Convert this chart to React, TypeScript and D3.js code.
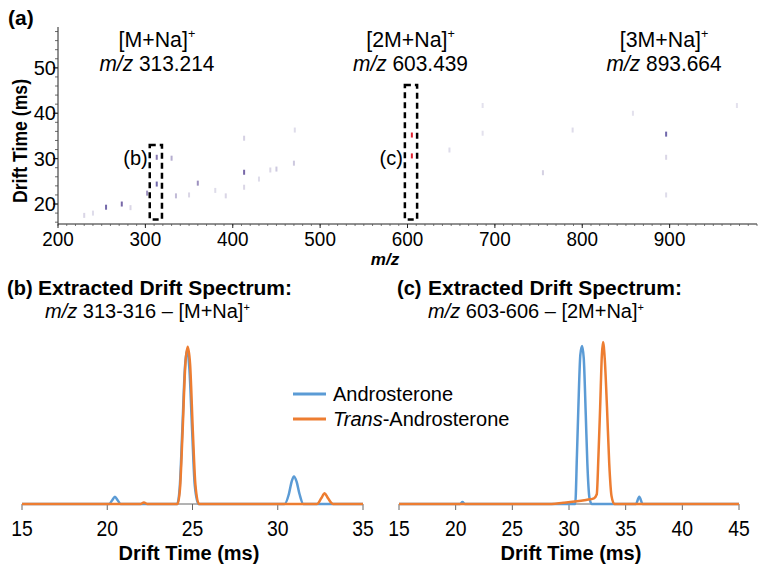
import React from 'react';
import * as d3 from 'd3';

// ---------- data: panel (a) drift-time vs m/z map ----------
const mzTicks = [200, 300, 400, 500, 600, 700, 800, 900];
const dtTicks = [20, 30, 40, 50];
const spotMz = [255, 273, 302, 313, 313, 330, 335, 360, 413, 413, 413, 450, 443, 470, 471, 392, 605, 605, 896, 896, 896, 755, 686, 858, 977, 648, 789, 686, 230, 240, 283, 350, 380, 430];
const spotDt = [19.3, 20.0, 22.4, 24.4, 30.3, 30.1, 21.8, 24.6, 27.0, 34.5, 23.7, 27.7, 27.5, 29.0, 36.3, 21.8, 35.2, 30.6, 35.4, 30.3, 22.0, 26.9, 41.7, 40.0, 41.7, 31.9, 36.3, 35.6, 17.5, 18.0, 19.2, 22.0, 23.0, 25.5];
const spotInt = [0.55, 0.5, 0.35, 0.6, 0.45, 0.25, 0.2, 0.35, 0.5, 0.12, 0.1, 0.15, 0.1, 0.15, 0.08, 0.1, 1.0, 1.0, 0.6, 0.1, 0.08, 0.12, 0.06, 0.06, 0.06, 0.08, 0.08, 0.06, 0.1, 0.08, 0.1, 0.1, 0.08, 0.08];

const boxLabels = ['(b)', '(c)'];
const boxMzLo = [305, 597];
const boxMzHi = [319, 611];
const boxDtLo = [16.6, 16.6];
const boxDtHi = [33.0, 46.2];

const ionNames = ['[M+Na]', '[2M+Na]', '[3M+Na]'];
const ionMz = [313.214, 603.439, 893.664];

// ---------- data: extracted drift spectra ----------
const seriesNames = ['Androsterone', 'Trans-Androsterone'];
const driftTicksB = [15, 20, 25, 30, 35];
const driftTicksC = [15, 20, 25, 30, 35, 40, 45];

const andB: [number, number][] = [
  [15, 0], [20.1, 0], [20.3, 0.025], [20.45, 0.045], [20.6, 0.025], [20.8, 0],
  [24.1, 0], [24.25, 0.1], [24.4, 0.45], [24.55, 0.83], [24.68, 0.95], [24.82, 0.83], [24.98, 0.45], [25.13, 0.12], [25.35, 0],
  [30.4, 0], [30.65, 0.06], [30.82, 0.14], [30.95, 0.17], [31.1, 0.14], [31.28, 0.06], [31.5, 0], [35, 0]
];
const transB: [number, number][] = [
  [15, 0], [21.95, 0], [22.15, 0.01], [22.35, 0],
  [24.12, 0], [24.27, 0.1], [24.42, 0.45], [24.58, 0.86], [24.72, 0.97], [24.86, 0.86], [25.02, 0.45], [25.17, 0.12], [25.38, 0],
  [32.3, 0], [32.55, 0.035], [32.75, 0.066], [32.95, 0.035], [33.25, 0], [35, 0]
];
const andC: [number, number][] = [
  [15, 0], [20.4, 0], [20.6, 0.012], [20.8, 0],
  [30.55, 0], [30.7, 0.3], [30.82, 0.58], [31.0, 0.92], [31.15, 0.975], [31.3, 0.9], [31.48, 0.55], [31.62, 0.25], [31.8, 0.04], [32.0, 0],
  [35.9, 0], [36.2, 0.045], [36.5, 0], [45, 0]
];
const transC: [number, number][] = [
  [15, 0], [28.0, 0], [29.5, 0.008], [30.5, 0.015], [31.5, 0.025], [32.2, 0.035], [32.45, 0.06],
  [32.6, 0.3], [32.75, 0.6], [32.9, 0.92], [33.0, 1.0], [33.15, 0.9], [33.35, 0.6], [33.55, 0.25], [33.75, 0.05], [34.0, 0], [45, 0]
];

const FONT = 'Liberation Sans, Arial, Helvetica, sans-serif';
const BLUE = '#5b9bd5';
const ORANGE = '#ed7d31';

// text drawn with a horizontal scale factor (reference glyphs are slightly condensed/expanded)
function ST(props: any) {
  const { x, y, sx = 1, rot = 0, children, ...rest } = props;
  return (
    <text transform={`translate(${x},${y}) rotate(${rot}) scale(${sx},1)`} {...rest}>{children}</text>
  );
}

export default function App() {
  // panel (a) scales
  const x = d3.scaleLinear().domain([200, 1000]).range([58, 757]);
  const y = d3.scaleLinear().domain([15.6, 59]).range([224, 27]);
  const color = d3.scaleLinear<string>().domain([0, 0.5, 0.9, 1]).range(['#f2f2f6', '#7868a8', '#5a6cb8', '#e0202e']);
  const minorMz = d3.range(200, 1001, 10);
  const minorDt = d3.range(16, 59, 2);

  // bottom panels
  const xb = d3.scaleLinear().domain([15, 35]).range([22, 363]);
  const xc = d3.scaleLinear().domain([15, 45]).range([399, 739]);
  const yi = d3.scaleLinear().domain([0, 1]).range([504, 342]);
  const lineB = d3.line<[number, number]>().x(d => xb(d[0])).y(d => yi(d[1])).curve(d3.curveMonotoneX);
  const lineC = d3.line<[number, number]>().x(d => xc(d[0])).y(d => yi(d[1])).curve(d3.curveMonotoneX);

  const axisY = 504;
  const t2 = seriesNames[1].split('-');

  return (
    <svg width={762} height={574} style={{ position: 'absolute', left: 0, top: 0, background: '#fff' }} fontFamily={FONT}>
      <rect width={762} height={574} fill="#fff" />
      {/* ---------- panel (a) ---------- */}
      <text x={8} y={25} fontSize={21} fontWeight="bold">(a)</text>
      {spotMz.map((m, i) => (
        <rect key={'s' + i} x={x(m) - 1} y={y(spotDt[i]) - 2.5} width={2} height={5} fill={color(spotInt[i])} />
      ))}
      {/* y axis */}
      <line x1={58} x2={58} y1={y(59)} y2={224} stroke="#222" strokeWidth={1} />
      {minorDt.map(v => (
        <line key={'my' + v} x1={55} x2={58} y1={y(v)} y2={y(v)} stroke="#444" strokeWidth={0.8} />
      ))}
      {dtTicks.map(v => (
        <g key={'yt' + v}>
          <line x1={53} x2={58} y1={y(v)} y2={y(v)} stroke="#222" />
          <text x={56} y={y(v) + 7} fontSize={20} textAnchor="end">{v}</text>
        </g>
      ))}
      {/* x axis */}
      <line x1={58} x2={757} y1={224} y2={224} stroke="#222" strokeWidth={1} />
      {minorMz.map(v => (
        <line key={'mx' + v} x1={x(v)} x2={x(v)} y1={224} y2={226} stroke="#555" strokeWidth={0.8} />
      ))}
      {mzTicks.map(v => (
        <g key={'xt' + v}>
          <line x1={x(v)} x2={x(v)} y1={224} y2={228} stroke="#222" />
          <ST x={x(v)} y={246} sx={0.9} fontSize={21} textAnchor="middle">{v}</ST>
        </g>
      ))}
      <text x={385} y={265} fontSize={17} fontWeight="bold" fontStyle="italic" textAnchor="middle">m/z</text>
      <ST x={27} y={141} rot={-90} sx={0.84} fontSize={21} fontWeight="bold" textAnchor="middle">Drift Time (ms)</ST>
      {/* dashed boxes */}
      {boxLabels.map((lab, i) => (
        <g key={'box' + i}>
          <rect x={x(boxMzLo[i])} y={y(boxDtHi[i])} width={x(boxMzHi[i]) - x(boxMzLo[i])} height={y(boxDtLo[i]) - y(boxDtHi[i])}
            fill="none" stroke="#000" strokeWidth={2.5} strokeDasharray="6,4" />
          <text x={x(boxMzLo[i]) - 2} y={165} fontSize={20} textAnchor="end">{lab}</text>
        </g>
      ))}
      {/* ion labels */}
      {ionNames.map((n, i) => (
        <g key={'ion' + i}>
          <ST x={x(ionMz[i])} y={47} sx={0.97} fontSize={22} textAnchor="middle">{n}<tspan fontSize={13} dy={-9}>+</tspan></ST>
          <ST x={x(ionMz[i])} y={71} sx={0.95} fontSize={22} textAnchor="middle"><tspan fontStyle="italic">m/z</tspan> {ionMz[i].toFixed(3)}</ST>
        </g>
      ))}

      {/* ---------- panel (b) ---------- */}
      <text x={7} y={295} fontSize={20} fontWeight="bold">(b)</text>
      <text x={38} y={295} fontSize={20} fontWeight="bold" textLength={254} lengthAdjust="spacingAndGlyphs">Extracted Drift Spectrum:</text>
      <text x={45} y={318} fontSize={20}><tspan fontStyle="italic">m/z</tspan> 313-316 – [M+Na]<tspan fontSize={11} dy={-7}>+</tspan></text>
      <line x1={xb(15)} x2={xb(35)} y1={axisY} y2={axisY} stroke="#666" strokeWidth={1} />
      {driftTicksB.map(v => (
        <g key={'bt' + v}>
          <line x1={xb(v)} x2={xb(v)} y1={axisY} y2={axisY + 6} stroke="#666" />
          <ST x={xb(v)} y={536} sx={0.88} fontSize={22} textAnchor="middle">{v}</ST>
        </g>
      ))}
      <text x={189} y={560} fontSize={20} fontWeight="bold" textAnchor="middle">Drift Time (ms)</text>
      <path d={lineB(andB) || ''} fill="none" stroke={BLUE} strokeWidth={2.5} strokeLinejoin="round" />
      <path d={lineB(transB) || ''} fill="none" stroke={ORANGE} strokeWidth={2.5} strokeLinejoin="round" />

      {/* ---------- panel (c) ---------- */}
      <text x={397} y={295} fontSize={20} fontWeight="bold">(c)</text>
      <text x={428} y={295} fontSize={20} fontWeight="bold" textLength={254} lengthAdjust="spacingAndGlyphs">Extracted Drift Spectrum:</text>
      <text x={428} y={318} fontSize={20}><tspan fontStyle="italic">m/z</tspan> 603-606 – [2M+Na]<tspan fontSize={11} dy={-7}>+</tspan></text>
      <line x1={xc(15)} x2={xc(45)} y1={axisY} y2={axisY} stroke="#666" strokeWidth={1} />
      {driftTicksC.map(v => (
        <g key={'ct' + v}>
          <line x1={xc(v)} x2={xc(v)} y1={axisY} y2={axisY + 6} stroke="#666" />
          <ST x={xc(v)} y={536} sx={0.88} fontSize={22} textAnchor="middle">{v}</ST>
        </g>
      ))}
      <text x={571} y={560} fontSize={20} fontWeight="bold" textAnchor="middle">Drift Time (ms)</text>
      <path d={lineC(andC) || ''} fill="none" stroke={BLUE} strokeWidth={2.5} strokeLinejoin="round" />
      <path d={lineC(transC) || ''} fill="none" stroke={ORANGE} strokeWidth={2.5} strokeLinejoin="round" />

      {/* ---------- legend ---------- */}
      <line x1={293} x2={326} y1={394} y2={394} stroke={BLUE} strokeWidth={3} />
      <text x={333} y={401} fontSize={20}>{seriesNames[0]}</text>
      <line x1={293} x2={326} y1={419} y2={419} stroke={ORANGE} strokeWidth={3} />
      <text x={333} y={426} fontSize={20}><tspan fontStyle="italic">{t2[0]}</tspan>-{t2.slice(1).join('-')}</text>
    </svg>
  );
}
